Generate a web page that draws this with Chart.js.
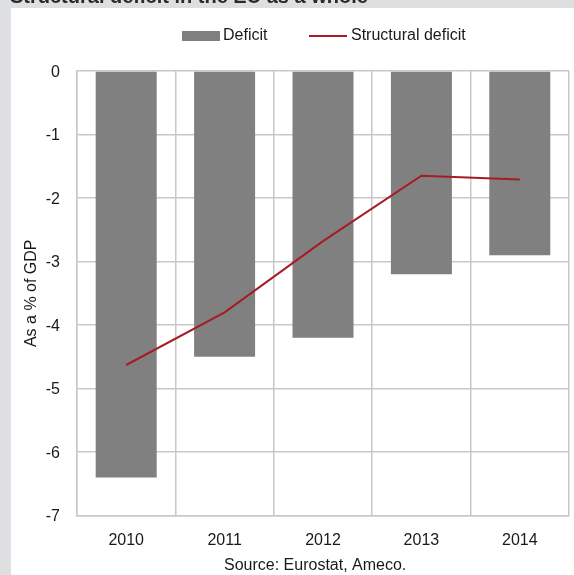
<!DOCTYPE html>
<html>
<head>
<meta charset="utf-8">
<script src="https://cdn.jsdelivr.net/npm/chart.js@4"></script>
<style>
  html, body { margin: 0; padding: 0; background: #dedfe1; overflow: hidden; }
  #chart { display: block; }
</style>
</head>
<body>
<canvas id="chart" width="574" height="575"></canvas>
<script>
// Data
const years = ["2010", "2011", "2012", "2013", "2014"];
const deficit = [-6.4, -4.5, -4.2, -3.2, -2.9];
const structuralDeficit = [-4.63, -3.8, -2.68, -1.65, -1.71];
const yTicks = [0, -1, -2, -3, -4, -5, -6, -7];

const titleText = "Structural deficit in the EU as a whole";
const sourceText = "Source: Eurostat, Ameco.";
const yTitle = "As a % of GDP";

const FONT = "'Liberation Sans', Arial, sans-serif";
const GRID = "#c8c8c8";
const TEXT = "#1a1a1a";

// Background panel, cut-off heading, legend and source line
const framePlugin = {
  id: "frame",
  beforeDraw(chart) {
    const ctx = chart.ctx;
    ctx.save();
    ctx.fillStyle = "#dedfe1";
    ctx.fillRect(0, 0, chart.width, chart.height);
    ctx.fillStyle = "#ffffff";
    ctx.fillRect(11, 8, chart.width - 11, chart.height - 8);
    ctx.fillStyle = "#2a2a2a";
    ctx.font = "bold 20px " + FONT;
    ctx.textBaseline = "alphabetic";
    ctx.textAlign = "left";
    ctx.fillText(titleText, 10, 3);
    ctx.restore();
  },
  afterDraw(chart) {
    const ctx = chart.ctx;
    const bars = chart.data.datasets.find((d) => d.type !== "line");
    const line = chart.data.datasets.find((d) => d.type === "line");
    ctx.save();
    ctx.font = "16px " + FONT;
    ctx.textBaseline = "middle";
    ctx.textAlign = "left";

    // legend: bar swatch
    ctx.fillStyle = bars.backgroundColor;
    ctx.fillRect(182, 31, 38, 10);
    ctx.fillStyle = TEXT;
    ctx.fillText(bars.label, 223, 36);

    // legend: line swatch
    ctx.strokeStyle = line.borderColor;
    ctx.lineWidth = 2;
    ctx.beginPath();
    ctx.moveTo(309, 36);
    ctx.lineTo(347, 36);
    ctx.stroke();
    ctx.fillStyle = TEXT;
    ctx.fillText(line.label, 351, 36);

    // source under the axis
    ctx.fillText(sourceText, 224, 566);
    ctx.restore();
  },
};

new Chart(document.getElementById("chart"), {
  type: "bar",
  data: {
    labels: years,
    datasets: [
      {
        type: "line",
        label: "Structural deficit",
        data: structuralDeficit,
        borderColor: "#a51c24",
        borderWidth: 2,
        pointRadius: 0,
        tension: 0,
        fill: false,
        order: 0,
      },
      {
        label: "Deficit",
        data: deficit,
        backgroundColor: "#808080",
        borderWidth: 0,
        categoryPercentage: 1,
        barPercentage: 0.62,
        order: 1,
      },
    ],
  },
  options: {
    responsive: false,
    animation: false,
    layout: { padding: { top: 71, left: 0, right: 5, bottom: 0 } },
    plugins: {
      legend: { display: false },
      tooltip: { enabled: false },
    },
    scales: {
      x: {
        offset: true,
        grid: { color: GRID, lineWidth: 1.5, drawTicks: false, offset: true },
        border: { color: GRID, width: 1.5 },
        ticks: { color: TEXT, font: { family: FONT, size: 16 }, padding: 15 },
        afterFit(scale) {
          scale.height = 59.5;
        },
      },
      y: {
        min: -7,
        max: 0,
        grid: { color: GRID, lineWidth: 1.5, drawTicks: false },
        border: { color: GRID, width: 1.5 },
        ticks: {
          color: TEXT,
          font: { family: FONT, size: 16 },
          padding: 17,
          labelOffset: 1.5,
        },
        afterBuildTicks(scale) {
          scale.ticks = yTicks.map((v) => ({ value: v }));
        },
        title: {
          display: true,
          text: yTitle,
          color: TEXT,
          font: { family: FONT, size: 16 },
          padding: { top: 22, bottom: 0 },
        },
        afterFit(scale) {
          scale.width = 77;
        },
      },
    },
  },
  plugins: [framePlugin],
});
</script>
</body>
</html>
